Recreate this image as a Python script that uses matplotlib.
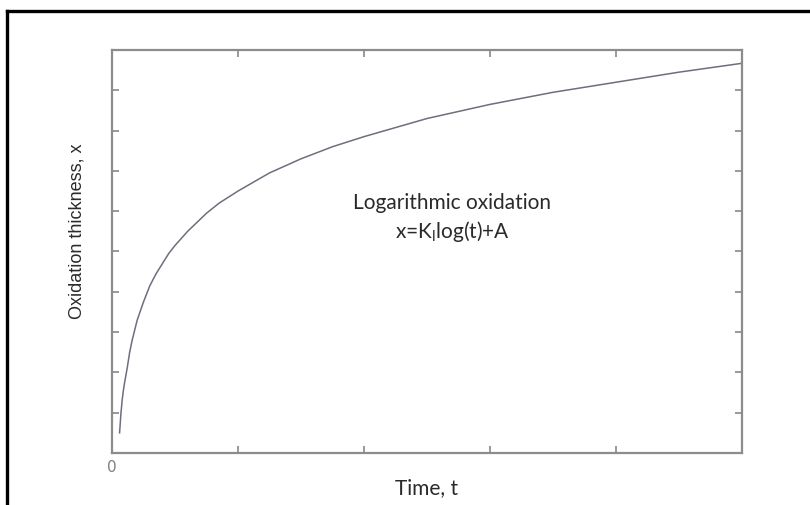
import matplotlib.pyplot as plt
from matplotlib.lines import Line2D

# curve (time, thickness)
time_t = [0.06, 0.07, 0.08, 0.09, 0.10, 0.12, 0.14, 0.16, 0.18, 0.20, 0.25, 0.30, 0.35,
          0.40, 0.45, 0.50, 0.60, 0.75, 0.85, 1.00, 1.25, 1.50, 1.75, 2.00, 2.50,
          3.00, 3.50, 4.00, 4.50, 5.00]
thickness = [0.5, 0.95, 1.3, 1.55, 1.75, 2.1, 2.5, 2.8, 3.05, 3.3, 3.75, 4.15, 4.45,
             4.7, 4.95, 5.15, 5.5, 5.95, 6.2, 6.5, 6.95, 7.3, 7.6, 7.85, 8.3,
             8.65, 8.95, 9.2, 9.45, 9.67]
x_ticks = [0, 1, 2, 3, 4, 5]
x_ticklabels = ['0', '', '', '', '', '']
y_ticks = [1, 2, 3, 4, 5, 6, 7, 8, 9]

fig = plt.figure(figsize=(8.1, 5.05), dpi=100)
ax = fig.add_axes([0.1383, 0.103, 0.7778, 0.798])

ax.plot(time_t, thickness, color='#6e6e7e', linewidth=1.1)

ax.set_xlim(0, 5)
ax.set_ylim(0, 10)
ax.set_xticks(x_ticks)
ax.set_xticklabels(x_ticklabels)
ax.set_yticks(y_ticks)
ax.set_yticklabels([])
ax.tick_params(direction='in', length=5, width=1.2, color='#888888',
               top=True, right=True, labelcolor='#808080', labelsize=11, pad=5)
for sp in ax.spines.values():
    sp.set_color('#8c8c8c')
    sp.set_linewidth(1.6)

ax.set_xlabel('Time, t', fontsize=15, family=['Lato', 'DejaVu Sans'], color='#2a2a2a', labelpad=2)
ax.set_ylabel('Oxidation thickness, x', fontsize=13,
              family=['Liberation Sans Narrow', 'Liberation Sans', 'DejaVu Sans'],
              color='#2a2a2a', labelpad=20)
ax.yaxis.set_label_coords(-0.042, 0.55)

ax.text(0.54, 0.62, 'Logarithmic oxidation', transform=ax.transAxes,
        ha='center', va='center', fontsize=15, family=['Lato', 'DejaVu Sans'], color='#2a2a2a')
ax.text(0.54, 0.55, r'x=K$_\mathregular{l}$log(t)+A', transform=ax.transAxes,
        ha='center', va='center', fontsize=15, family=['Lato', 'DejaVu Sans'], color='#2a2a2a')

# black frame (top and left edges visible)
fig.add_artist(Line2D([7 / 810, 1.0], [1 - 11 / 505, 1 - 11 / 505], color='black', linewidth=2.4))
fig.add_artist(Line2D([7 / 810, 7 / 810], [0.0, 1 - 11 / 505], color='black', linewidth=2.4))

fig.savefig('out.png', dpi=100)
